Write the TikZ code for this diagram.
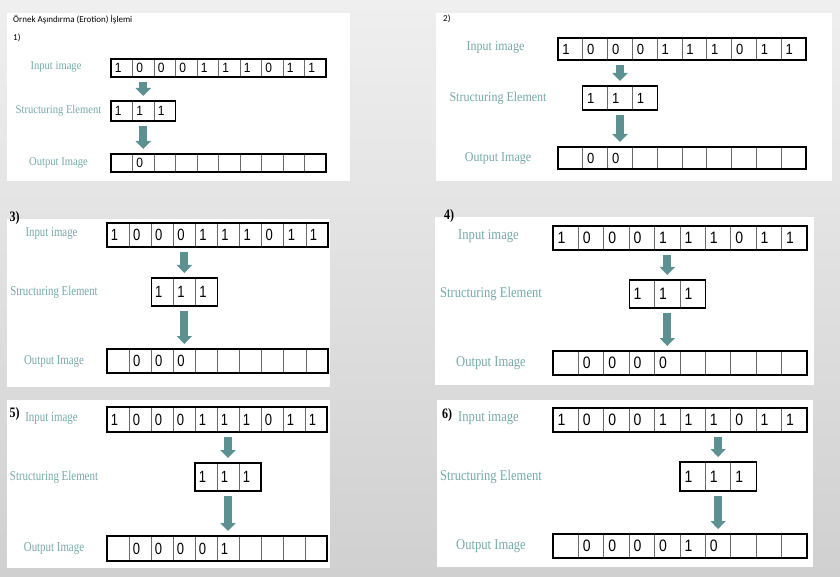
\documentclass[tikz,border=0pt]{standalone}
\usepackage{fontspec}
\usepackage{graphicx}
\usetikzlibrary{arrows.meta,calc}
\newfontfamily\lblfont{Liberation Serif}
\newfontfamily\digfont{Liberation Sans}
\newfontfamily\ttlfont{Carlito}
\definecolor{lblcol}{HTML}{78A9A9}
\definecolor{arrcol}{HTML}{5D9090}
\definecolor{divcol}{HTML}{6A6A6A}
\definecolor{bgtop}{HTML}{EFEFEF}
\definecolor{bgbot}{HTML}{D0D0D0}
\tikzset{
  panelbg/.style={fill=white, draw=none},
  cellbox/.style={draw=black, line width=1.3pt, fill=none, inner sep=0pt, outer sep=0pt, anchor=north west},
  divider/.style={draw=divcol, line width=0.7pt, shorten <=0.6pt, shorten >=0.6pt},
  digit/.style={inner sep=0pt, anchor=west, font=\digfont\fontsize{\fsD}{\fsD}\selectfont},
  lbl/.style={inner sep=0pt, text=lblcol, font=\lblfont\fontsize{\fsL}{\fsL}\selectfont},
  blockarr/.style={draw=arrcol, line width=8pt, -{Triangle[width=15pt,length=8pt]}, shorten <=5pt, shorten >=5pt},
  stepnum/.style={inner sep=0pt, font=\lblfont\bfseries\fontsize{12}{12}\selectfont},
  smallnum/.style={inner sep=0pt, anchor=west, font=\ttlfont\fontsize{9}{9}\selectfont},
}
% #1 step, #2 xL, #3 xR, #4 input top, #5 input bottom, #6 SE top, #7 SE bottom, #8 output top, #9 label x
\newcommand\drawpanel[9]{%
  \pgfmathsetmacro\pw{#3-#2}%
  \pgfmathsetmacro\cw{(#3-#2)/10}%
  \pgfmathsetmacro\ih{#5-#4}%
  \pgfmathsetmacro\sh{#7-#6}%
  \pgfmathsetmacro\sx{#2+(#1-1)*\cw}%
  \pgfmathsetmacro\sw{3*\cw}%
  % input image
  \node[cellbox, minimum width=\pw pt, minimum height=\ih pt] (in#1) at (#2,#4) {};
  \foreach \j in {1,...,9}
    \draw[divider] ($(in#1.north west)!\j/10!(in#1.north east)$) -- ($(in#1.south west)!\j/10!(in#1.south east)$);
  \foreach \v [count=\j] in {1,0,0,0,1,1,1,0,1,1}
    \node[digit] (i#1d\j) at ($(in#1.west)+({(\j-0.83)*\cw},0)$) {\scalebox{1}[\vst]{\v}};
  % structuring element
  \node[cellbox, minimum width=\sw pt, minimum height=\sh pt] (se#1) at (\sx,#6) {};
  \foreach \j in {1,2}
    \draw[divider] ($(se#1.north west)!\j/3!(se#1.north east)$) -- ($(se#1.south west)!\j/3!(se#1.south east)$);
  \foreach \j in {1,2,3}
    \node[digit] (s#1d\j) at ($(se#1.west)+({(\j-0.83)*\cw},0)$) {\scalebox{1}[\vst]{1}};
  % output image
  \node[cellbox, minimum width=\pw pt, minimum height=\ih pt] (out#1) at (#2,#8) {};
  \foreach \j in {1,...,9}
    \draw[divider] ($(out#1.north west)!\j/10!(out#1.north east)$) -- ($(out#1.south west)!\j/10!(out#1.south east)$);
  \foreach \v [count=\j] in {0,0,0,0,1,0}{%
    \ifnum\j>#1\relax\else
      \node[digit] (o#1d\j) at ($(out#1.west)+({(\j+1-0.83)*\cw},0)$) {\scalebox{1}[\vst]{\v}};
    \fi}
  % arrows
  \draw[blockarr] (in#1.south -| se#1.north) -- (se#1.north);
  \draw[blockarr] (se#1.south) -- (se#1.south |- out#1.north);
  % labels
  \pgfmathsetmacro\yi{(#4+#5)/2-1.5}%
  \pgfmathsetmacro\ys{(#6+#7)/2}%
  \pgfmathsetmacro\yo{#8+\ih/2}%
  \node[lbl] (lin#1) at ({#9-2.5},\yi) {\scalebox{1}[\vst]{Input image}};
  \node[lbl] (lse#1) at (#9,\ys) {\scalebox{1}[\vst]{Structuring Element}};
  \node[lbl] (lout#1) at (#9,\yo) {\scalebox{1}[\vst]{Output Image}};
}
\begin{document}
\begin{tikzpicture}[x=1pt,y=-1pt]
  \useasboundingbox (0,0) rectangle (840,577);
  \shade[top color=bgtop, bottom color=bgbot] (0,0) rectangle (840,577);
  % white panels
  \fill[panelbg] (7,13) rectangle (350,181);
  \fill[panelbg] (436,13) rectangle (832,181);
  \fill[panelbg] (7,219) rectangle (330,387);
  \fill[panelbg] (435,217) rectangle (814,385);
  \fill[panelbg] (7,400) rectangle (330,568);
  \fill[panelbg] (437,400) rectangle (813,567);
  % titles and step numbers
  \node[smallnum] (title) at (13,20) {Örnek Aşındırma (Erotion) İşlemi};
  \node[smallnum] (n1) at (13,38) {1)};
  \node[smallnum] (n2) at (443,19) {2)};
  \node[stepnum] (n3) at (14.5,218) {\scalebox{1}[1.2]{3)}};
  \node[stepnum] (n4) at (449,216.5) {\scalebox{1}[1.2]{4)}};
  \node[stepnum] (n5) at (14.5,414.5) {\scalebox{1}[1.2]{5)}};
  \node[stepnum] (n6) at (447,415.5) {\scalebox{1}[1.2]{6)}};
  % panels
  \def\fsL{10.6}\def\fsD{12}\def\vst{1.12}
  \drawpanel{1}{111}{326}{59}{77}{101}{121}{154}{58.5}
  \def\fsL{12}\def\fsD{13}\def\vst{1.13}
  \drawpanel{2}{558}{806}{38}{60}{86}{110}{147}{498}
  \def\fsL{10.8}\def\fsD{13}\def\vst{1.25}
  \drawpanel{3}{107}{328}{223}{247}{278}{306}{349}{54}
  \def\fsL{12.6}\def\fsD{14}\def\vst{1.18}
  \drawpanel{4}{553}{807}{226}{250}{280}{308}{351}{491}
  \def\fsL{10.9}\def\fsD{13}\def\vst{1.25}
  \drawpanel{5}{107}{327}{407}{432}{463}{491}{536}{54}
  \def\fsL{12.6}\def\fsD{14}\def\vst{1.18}
  \drawpanel{6}{553}{807}{408}{432}{462}{491}{534}{491}
\end{tikzpicture}
\end{document}
